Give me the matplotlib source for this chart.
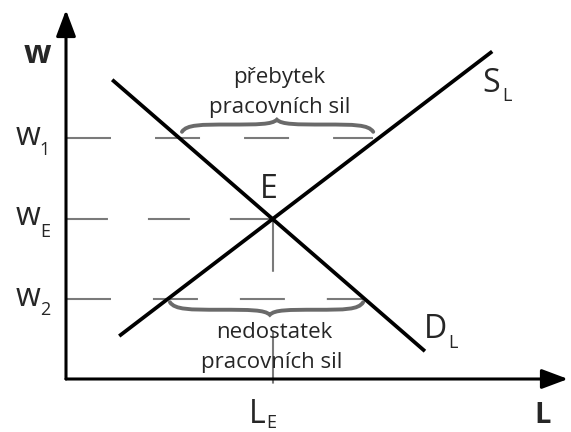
import numpy as np
import matplotlib
matplotlib.use("Agg")
import matplotlib.pyplot as plt
from matplotlib.path import Path
from matplotlib.patches import PathPatch

plt.rcParams['font.family'] = ['Open Sans', 'DejaVu Sans']
plt.rcParams['lines.scale_dashes'] = False

# --- data (L, w units) ---
demand_L = [0.92, 7.15]
demand_w = [5.92, 0.55]
supply_L = [1.06, 8.49]
supply_w = [0.85, 6.48]

wage_subs = ["1", "E", "2"]
wage_vals = [4.77, 3.17, 1.58]
wage_ends = [6.12, 4.12, 5.92]   # where the dashed level line stops
wage_dash = [(32.4, 31.7), (30.2, 28.8), (32.4, 30.2)]

L_E = 4.12
w_E = 3.17

surplus_text = ["přebytek", "pracovních sil"]
shortage_text = ["nedostatek", "pracovních sil"]

txt = '#262626'
grey = '#7a7a7a'

fig = plt.figure(figsize=(5.71, 4.32), dpi=100)
ax = fig.add_axes([66 / 571, 53 / 432, 502 / 571, 369 / 432])
ax.set_xlim(0, 10)
ax.set_ylim(0, 7.3)
ax.axis('off')

# axes with arrows
arr = dict(arrowstyle='-|>,head_length=0.8,head_width=0.3', lw=2.2,
           color='black', mutation_scale=20, shrinkA=0, shrinkB=0)
ax.annotate('', xy=(0, 7.3), xytext=(0, 0), arrowprops=arr, annotation_clip=False)
ax.annotate('', xy=(10, 0), xytext=(0, 0), arrowprops=arr, annotation_clip=False)

# dashed wage levels
for wv, we, dsh in zip(wage_vals, wage_ends, wage_dash):
    ln, = ax.plot([0, we], [wv, wv], color=grey, lw=1.5, clip_on=False)
    ln.set_dashes(dsh)

# vertical from equilibrium
ln, = ax.plot([L_E, L_E], [w_E, -0.18], color=grey, lw=1.5, clip_on=False)
ln.set_dashes((38, 42.5))

# curves
ax.plot(demand_L, demand_w, color='black', lw=2.7, solid_capstyle='butt')
ax.plot(supply_L, supply_w, color='black', lw=2.7, solid_capstyle='butt')


def brace(x0, x1, xm, y0, h):
    s1 = xm - x0
    s2 = x1 - xm
    yb = y0 + 0.6 * h
    verts = [(x0, y0),
             (x0 + 0.05 * s1, yb), (x0 + 0.2 * s1, yb), (x0 + 0.5 * s1, yb),
             (xm - 0.2 * s1, yb), (xm - 0.05 * s1, yb), (xm, y0 + h),
             (xm + 0.05 * s2, yb), (xm + 0.2 * s2, yb), (xm + 0.5 * s2, yb),
             (x1 - 0.2 * s2, yb), (x1 - 0.05 * s2, yb), (x1, y0)]
    codes = [Path.MOVETO] + [Path.CURVE4] * 12
    ax.add_patch(PathPatch(Path(verts, codes), fill=False, edgecolor='#6a6a6a',
                           lw=2.8, capstyle='round'))


brace(2.31, 6.12, 4.20, 4.89, 0.24)
brace(2.07, 5.92, 4.06, 1.52, -0.25)

# texts
ax.text(4.25, 5.86, surplus_text[0], ha='center', va='baseline', fontsize=16, color=txt)
ax.text(4.25, 5.27, surplus_text[1], ha='center', va='baseline', fontsize=16, color=txt)
ax.text(4.14, 0.81, shortage_text[0], ha='center', va='baseline', fontsize=16, color=txt)
ax.text(4.09, 0.22, shortage_text[1], ha='center', va='baseline', fontsize=16, color=txt)

# axis labels
ax.text(-0.58, 6.42, "w", ha='center', va='center', fontsize=23, fontweight='bold',
        color=txt, clip_on=False)
ax.text(9.49, -0.87, "L", ha='center', va='baseline', fontsize=21, fontweight='bold',
        color=txt, clip_on=False)

# wage labels
sub_base = [4.44, 2.81, 1.27]
main_base = [4.63, 3.05, 1.45]
for s, mb, sb in zip(wage_subs, main_base, sub_base):
    ax.text(-0.52, mb, "w", ha='right', va='baseline', fontsize=23, color=txt, clip_on=False)
    ax.text(-0.52, sb, s, ha='left', va='baseline', fontsize=13, color=txt, clip_on=False)

# point / curve labels
ax.text(4.04, 3.58, "E", ha='center', va='baseline', fontsize=23, color=txt)
ax.text(8.46, 5.68, "S", ha='center', va='baseline', fontsize=23, color=txt)
ax.text(8.70, 5.49, "L", ha='left', va='baseline', fontsize=13, color=txt)
ax.text(7.37, 0.81, "D", ha='center', va='baseline', fontsize=23, color=txt)
ax.text(7.61, 0.61, "L", ha='left', va='baseline', fontsize=13, color=txt)
ax.text(3.81, -0.87, "L", ha='center', va='baseline', fontsize=23, color=txt, clip_on=False)
ax.text(3.99, -0.96, "E", ha='left', va='baseline', fontsize=13, color=txt, clip_on=False)

fig.savefig("out.png", dpi=100)
